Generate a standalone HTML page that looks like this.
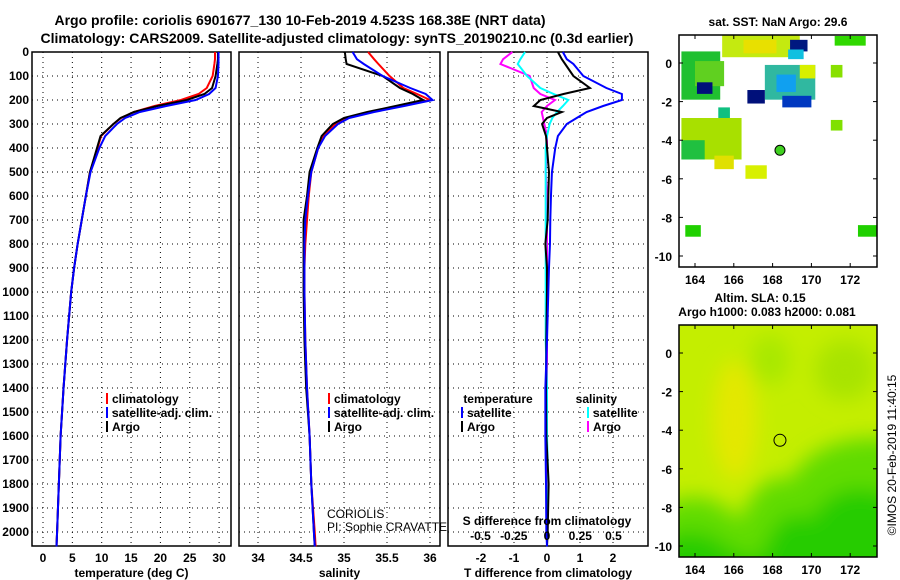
<!DOCTYPE html>
<html><head><meta charset="utf-8"><style>
body{margin:0;background:#fff}
svg{display:block;font-family:"Liberation Sans",sans-serif}
.t{font-weight:bold;font-size:12px}
.n{font-weight:normal;font-size:12px}
</style></head><body>
<svg id="c" width="900" height="580" viewBox="0 0 900 580"></svg>
<script>
// ---- data ----
const depths = [0,30,50,100,150,175,200,225,250,275,300,350,400,500,600,700,800,900,1000,1200,1400,1600,1800,2000,2060];
const tempArgo = [29.8,29.8,29.7,29.4,28.8,27.5,24.5,19.5,15.5,13.2,12,9.8,9.2,8.0,7.3,6.6,5.9,5.3,4.8,4.1,3.5,3.0,2.7,2.4,2.3];
const tempClim = [29.3,29.3,29.2,28.9,27.9,26.5,23.5,19.0,15.5,13.3,12,9.9,9.3,8.0,7.3,6.6,5.9,5.3,4.8,4.1,3.5,3.0,2.7,2.4,2.3];
const tempSat  = [29.9,29.9,29.9,29.8,29.4,28.3,26.0,21.0,16.5,14.0,12.6,10.6,9.6,8.1,7.3,6.6,5.9,5.3,4.8,4.1,3.5,3.0,2.7,2.4,2.3];
const salArgo = [35.01,35.02,35.03,35.45,35.65,35.8,35.92,35.6,35.27,35.0,34.87,34.74,34.69,34.6,34.57,34.53,34.53,34.53,34.53,34.54,34.56,34.6,34.62,34.65,34.66];
const salClim = [35.28,35.35,35.4,35.53,35.69,35.85,36.0,35.65,35.3,35.02,34.9,34.76,34.7,34.62,34.59,34.57,34.55,34.54,34.54,34.55,34.57,34.6,34.62,34.66,34.67];
const salSat  = [35.1,35.15,35.23,35.45,35.77,35.95,36.03,35.7,35.35,35.06,34.93,34.78,34.7,34.62,34.58,34.55,34.54,34.54,34.54,34.55,34.57,34.6,34.62,34.65,34.66];
const dTSat  = [0.48,0.6,0.8,1.1,1.8,2.27,2.27,1.7,1.2,0.9,0.6,0.33,0.25,0.15,0.12,0.1,0.09,0.06,0.04,0.0,-0.05,-0.05,-0.03,-0.02,0];
const dTArgo = [0.33,0.45,0.55,0.8,1.3,0.5,-0.2,-0.4,0.45,0.0,-0.15,-0.03,0.0,0.06,0.04,0.02,-0.05,0.0,0.0,-0.02,-0.03,-0.02,0.05,0.02,0];
const dSSat  = [-0.165,-0.2,-0.22,-0.15,-0.05,0.05,0.16,0.12,0.075,0.04,0.02,0.0,-0.01,-0.01,-0.01,-0.01,-0.01,-0.01,-0.01,-0.01,0.0,0.0,0.01,0.0,0.0];
const dSArgo = [-0.26,-0.33,-0.35,-0.13,-0.1,-0.05,0.06,0.0,-0.04,-0.03,-0.02,0.0,0.0,-0.01,0.0,0.0,0.0,0.0,0.0,0.0,0.0,0.0,0.0,0.0,0.0];
const depthTicks = [0,100,200,300,400,500,600,700,800,900,1000,1100,1200,1300,1400,1500,1600,1700,1800,1900,2000];
const tempTicks = [0,5,10,15,20,25,30];
const salTicks = [34,34.5,35,35.5,36];
const dTTicks = [-2,-1,0,1,2];
const dSTickLabels = ["-0.5","-0.25","0","0.25","0.5"];
const dSTicks = [-0.5,-0.25,0,0.25,0.5];
const lonTicks = [164,166,168,170,172];
const latTicks = [0,-2,-4,-6,-8,-10];
// SST cells: lon0, lat0 (top-left), lon1, lat1, colour
const sstCells = [
 [165.4,1.45,169.4,0.3,"#c4ea10"],[166.5,1.2,168.2,0.5,"#e8e000"],
 [163.3,0.6,165.3,-1.9,"#20c030"],[164.0,0.1,165.5,-1.2,"#60d020"],
 [168.9,1.2,169.8,0.6,"#001880"],[168.8,0.7,169.6,0.2,"#10c0e0"],
 [167.6,-0.1,170.2,-1.9,"#30b8a0"],[168.2,-0.6,169.2,-1.5,"#10a0f0"],
 [166.7,-1.4,167.6,-2.1,"#00107a"],[168.5,-1.7,170.0,-2.3,"#0038c0"],
 [169.4,-0.1,170.2,-0.8,"#d8f000"],[171.0,-0.1,171.6,-0.75,"#88e000"],
 [171.2,1.4,172.8,0.9,"#30d800"],[164.1,-1.0,164.9,-1.6,"#00107a"],
 [165.2,-2.3,165.8,-2.85,"#10c080"],[163.3,-2.85,166.4,-5.0,"#a8e000"],
 [163.3,-4.0,164.5,-5.0,"#20c040"],[165.0,-4.8,166.0,-5.5,"#e0e000"],
 [166.6,-5.3,167.7,-6.0,"#d8f000"],[171.0,-2.95,171.6,-3.5,"#80e000"],
 [163.5,-8.4,164.3,-9.0,"#20d000"],[172.4,-8.4,173.4,-9.0,"#20d000"]
];
const argoLon = 168.38, argoLat = -4.523;

const S = document.getElementById('c');
const NS = 'http://www.w3.org/2000/svg';
function mk(tag, attrs, parent){const e=document.createElementNS(NS,tag);for(const k in attrs)e.setAttribute(k,attrs[k]);(parent||S).appendChild(e);return e;}
function txt(x,y,s,anchor,cls,parent){const e=mk('text',{x:x,y:y,'text-anchor':anchor||'middle','class':cls||'t'},parent);e.textContent=s;return e;}

const yD = d => 52 + d*0.24;
const TOP=52, BOT=546;

function panel(x0,x1,name,xTicks,xs,xlabels,label){
  const g=mk('g',{});
  
  
  xTicks.forEach(v=>mk('line',{x1:xs(v),x2:xs(v),y1:TOP,y2:BOT,stroke:'#000','stroke-width':1,'stroke-dasharray':'1,4'},g));
  depthTicks.forEach(d=>mk('line',{x1:x0,x2:x1,y1:yD(d),y2:yD(d),stroke:'#000','stroke-width':1,'stroke-dasharray':'1,4'},g));
  mk('rect',{x:x0,y:TOP,width:x1-x0,height:BOT-TOP,fill:'none',stroke:'#000','stroke-width':1.5},g);
  xTicks.forEach((v,i)=>{const t=txt(xs(v),562,xlabels[i],'middle','t',g);});
  const l=txt((x0+x1)/2,577,label,'middle','t',g);
  
  
  return g;
}
function line(vals,xs,color,name,g){
  const p=mk('polyline',{points:vals.map((v,i)=>xs(v)+','+yD(depths[i])).join(' '),fill:'none',stroke:color,'stroke-width':2},g);
  
  
}
function legend(x,y,items,g){
  items.forEach((it,i)=>{mk('rect',{x:x,y:y+i*14-10,width:2,height:11,fill:it[1]},g);
    const t=txt(x+6,y+i*14,it[0],'start','t',g);
    
    });
}

const t1=txt(300,25,'Argo profile: coriolis 6901677_130 10-Feb-2019 4.523S 168.38E (NRT data)','middle');
t1.setAttribute('style','font-size:14px');


const t2=txt(337,43,'Climatology: CARS2009. Satellite-adjusted climatology: synTS_20190210.nc (0.3d earlier)','middle');
t2.setAttribute('style','font-size:14px');



depthTicks.forEach(d=>{const t=txt(29,yD(d)+4,String(d),'end');});

const xT=v=>43+v*5.87;
const g1=panel(32,231,'temperature-panel',tempTicks,xT,tempTicks.map(String),'temperature (deg C)');
line(tempClim,xT,'#f00','temp-climatology-line',g1);
line(tempArgo,xT,'#000','temp-argo-line',g1);
line(tempSat,xT,'#00f','temp-satellite-line',g1);
legend(106,403,[['climatology','#f00'],['satellite-adj. clim.','#00f'],['Argo','#000']],g1);

const xS=v=>258+(v-34)*86;
const g2=panel(239,440,'salinity-panel',salTicks,xS,['34','34.5','35','35.5','36'],'salinity');
line(salClim,xS,'#f00','sal-climatology-line',g2);
line(salArgo,xS,'#000','sal-argo-line',g2);
line(salSat,xS,'#00f','sal-satellite-line',g2);
legend(328,403,[['climatology','#f00'],['satellite-adj. clim.','#00f'],['Argo','#000']],g2);
const c1=txt(327,518,'CORIOLIS','start','n',g2);


const c2=txt(327,531,'PI: Sophie CRAVATTE','start','n',g2);



const xDT=v=>547+v*33;
const xDS=v=>547+v*133;
const g3=panel(448,648,'difference-panel',dTTicks,xDT,dTTicks.map(String),'T difference from climatology');
line(dSArgo,xDS,'#f0f','sal-diff-argo-line',g3);
line(dSSat,xDS,'#0ff','sal-diff-satellite-line',g3);
line(dTArgo,xDT,'#000','temp-diff-argo-line',g3);
line(dTSat,xDT,'#00f','temp-diff-satellite-line',g3);
txt(498,403,'temperature','middle','t',g3);
txt(617,403,'salinity','end','t',g3);
legend(461,417,[['satellite','#00f'],['Argo','#000']],g3);
legend(587,417,[['satellite','#0ff'],['Argo','#f0f']],g3);
txt(547,525,'S difference from climatology','middle','t',g3);
dSTicks.forEach((v,i)=>txt(xDS(v),540,dSTickLabels[i],'middle','t',g3));

const lonX=(x0,lon)=>x0+16+(lon-164)*19.4;
function mapFrame(x0,y0,y1,lat0y,name,g){
  mk('rect',{x:x0,y:y0,width:198,height:y1-y0,fill:'none',stroke:'#000','stroke-width':1.5},g);
  lonTicks.forEach(l=>{const x=lonX(x0,l);
    mk('line',{x1:x,x2:x,y1:y0,y2:y0+4,stroke:'#000'},g);mk('line',{x1:x,x2:x,y1:y1,y2:y1-4,stroke:'#000'},g);
    txt(x,y1+17,String(l),'middle','t',g);});
  latTicks.forEach(l=>{const y=lat0y-l*19.3;
    mk('line',{x1:x0,x2:x0+4,y1:y,y2:y,stroke:'#000'},g);mk('line',{x1:x0+198,x2:x0+194,y1:y,y2:y,stroke:'#000'},g);
    txt(x0-7,y+5,String(l),'end','t',g);});
}
const gm1=mk('g',{});


txt(778,26,'sat. SST: NaN Argo: 29.6','middle','t',gm1);
const lat0a=63;
sstCells.forEach(c=>{
  const r=mk('rect',{x:lonX(679,c[0]),y:lat0a-c[1]*19.3,width:(c[2]-c[0])*19.4,height:(c[1]-c[3])*19.3,fill:c[4]},gm1);
  
  
});
mapFrame(679,35,267,lat0a,'sst-map',gm1);
const d1=mk('circle',{cx:lonX(679,argoLon),cy:lat0a-argoLat*19.3,r:5,fill:'#40d020',stroke:'#000'},gm1);



const gm2=mk('g',{});


txt(760,302,'Altim. SLA: 0.15','middle','t',gm2);
txt(767,316,'Argo h1000: 0.083 h2000: 0.081','middle','t',gm2);
const defs=mk('defs',{},gm2);
const f=mk('filter',{id:'bl',x:'-50%',y:'-50%',width:'200%',height:'200%'},defs);
mk('feGaussianBlur',{stdDeviation:10},f);
const cp=mk('clipPath',{id:'cl'},defs);
mk('rect',{x:679,y:325,width:198,height:232},cp);
const ga=mk('g',{'clip-path':'url(#cl)'},gm2);
mk('rect',{x:679,y:325,width:198,height:232,fill:'#c4ee00'},ga);
const gb=mk('g',{filter:'url(#bl)'},ga);
mk('ellipse',{cx:735,cy:420,rx:22,ry:60,fill:'#e4e800'},gb);
mk('ellipse',{cx:770,cy:360,rx:20,ry:25,fill:'#a8e800'},gb);
mk('ellipse',{cx:845,cy:370,rx:30,ry:30,fill:'#a8e400'},gb);
mk('path',{d:'M660 510 Q700 480 740 520 Q760 470 790 480 Q820 430 900 440 L900 580 L660 580Z',fill:'#60dc00'},gb);
mk('path',{d:'M660 540 Q700 520 730 550 L760 560 Q780 500 810 520 Q840 470 900 500 L900 580 L660 580Z',fill:'#28cc00'},gb);
mapFrame(679,325,557,353,'sla-map',gm2);
const d2=mk('circle',{cx:lonX(679,argoLon),cy:353-argoLat*19.3,r:6,fill:'none',stroke:'#000'},gm2);


const cr=txt(0,0,'©IMOS 20-Feb-2019 11:40:15','middle','n',gm2);
cr.setAttribute('transform','translate(896,455) rotate(-90)');


</script>
</body></html>
